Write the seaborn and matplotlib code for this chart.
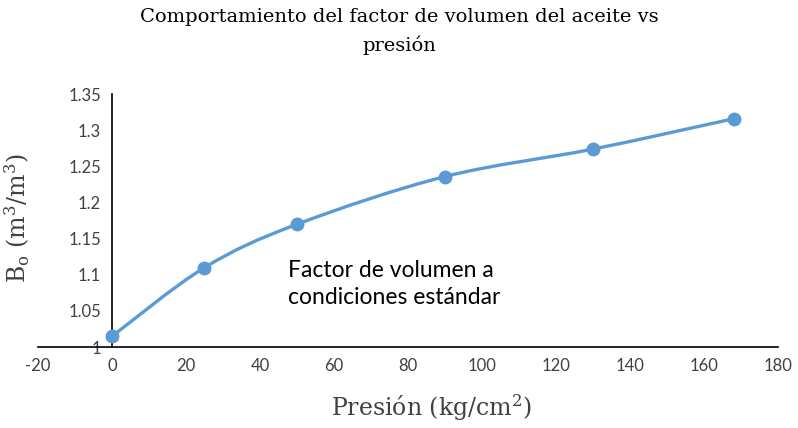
import numpy as np
import pandas as pd
import matplotlib
matplotlib.use("Agg")
import matplotlib.pyplot as plt
from matplotlib.path import Path
from matplotlib.patches import PathPatch
import seaborn as sns

# Oil formation volume factor vs pressure
presion = [0, 25, 50, 90, 130, 168]              # kg/cm2
bo = [1.015, 1.110, 1.170, 1.236, 1.274, 1.316]  # m3/m3

x_ticks = [-20, 0, 20, 40, 60, 80, 100, 120, 140, 160, 180]
y_ticks = [1, 1.05, 1.1, 1.15, 1.2, 1.25, 1.3, 1.35]
y_tick_labels = ["1", "1.05", "1.1", "1.15", "1.2", "1.25", "1.3", "1.35"]

titulo = "Comportamiento del factor de volumen del aceite vs\npresión"
nota = "Factor de volumen a\ncondiciones estándar"

df = pd.DataFrame({"Presion": presion, "Bo": bo})

sns.set_theme(style="white")
plt.rcParams["font.family"] = ["Lato", "DejaVu Sans"]
plt.rcParams["axes.unicode_minus"] = False
plt.rcParams["mathtext.fontset"] = "dejavuserif"

serif = ["DejaVu Serif"]
color = "#5B9BD5"

fig = plt.figure(figsize=(7.98, 4.28), dpi=100)
ax = fig.add_axes([0.0476, 0.189, 0.9274, 0.591])


def smooth_path(xs, ys, t=1.0 / 6.0):
    """Cardinal-spline style smoothing through every point (cubic Bezier)."""
    pts = np.column_stack([xs, ys]).astype(float)
    n = len(pts)
    verts = [pts[0]]
    codes = [Path.MOVETO]
    for i in range(n - 1):
        p0 = pts[i - 1] if i > 0 else pts[i]
        p1 = pts[i]
        p2 = pts[i + 1]
        p3 = pts[i + 2] if i + 2 < n else pts[i + 1]
        c1 = p1 + (p2 - p0) * t
        c2 = p2 - (p3 - p1) * t
        verts += [c1, c2, p2]
        codes += [Path.CURVE4] * 3
    return Path(verts, codes)


ax.set_xlim(-20, 180)
ax.set_ylim(1, 1.35)
ax.add_patch(PathPatch(smooth_path(df["Presion"], df["Bo"]), facecolor="none",
                       edgecolor=color, lw=2.4, zorder=2))

sns.scatterplot(data=df, x="Presion", y="Bo", ax=ax, color=color, s=100,
                edgecolor=color, linewidth=0, zorder=3, legend=False,
                clip_on=False)

ax.set_xticks(x_ticks)
ax.set_yticks(y_ticks)
ax.set_yticklabels(y_tick_labels)
ax.tick_params(axis="both", direction="out", length=5, width=1.2,
               colors="black", labelsize=12, labelcolor="#404040", pad=3)

for s in ["top", "right"]:
    ax.spines[s].set_visible(False)
ax.spines["left"].set_position(("data", 0))
for s in ["left", "bottom"]:
    ax.spines[s].set_color("black")
    ax.spines[s].set_linewidth(1.2)

ax.set_xlabel("Presión (kg/cm$^2$)", family=serif, fontsize=17,
              color="#404040")
ax.xaxis.set_label_coords(0.531, -0.18)
ax.set_ylabel("")
fig.text(0.022, 0.49, "B$_\\mathrm{o}$ (m$^3$/m$^3$)", rotation=90,
         family=serif, fontsize=17, color="#404040",
         ha="center", va="center")

fig.text(0.5, 0.982, titulo, ha="center", va="top", fontsize=14,
         family=serif, color="black", linespacing=1.66)

ax.text(47.5, 1.121, nota, fontsize=16.5, color="black", va="top", ha="left",
        linespacing=1.4)

ax.grid(False)
fig.savefig("out.png", dpi=100, facecolor="white")
